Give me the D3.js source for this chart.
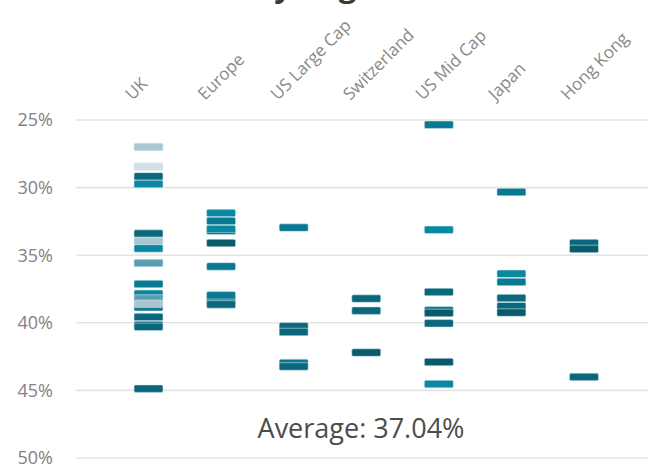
<!DOCTYPE html>
<html>
<head>
<meta charset="utf-8">
<script src="https://cdn.jsdelivr.net/npm/d3@7"></script>
<style>
	body { margin: 0; background: #fff; }
	svg { display: block; font-family: "Open Sans", "Noto Sans", sans-serif; }
	.gridLines line { stroke: #e4e4e4; stroke-width: 1.6; }
	.tickLabels text { fill: #868084; font-size: 18px; }
	.catLabels text { fill: #888888; font-size: 17px; }
	.bar { stroke: #d4eaf0; stroke-width: 0.7; stroke-opacity: 0.8; }
</style>
</head>
<body>
<script>
(function(){

	//pseudo-global variables
	var categories = ["UK", "Europe", "US Large Cap", "Switzerland", "US Mid Cap", "Japan", "Hong Kong"];
	var yTicks = [25, 30, 35, 40, 45, 50]; //percent
	var averageLabel = "Average: 37.04%";
	var titleText = "Maximum Drawdown by Region";

	//values (percent) and shade group for each category
	var ukValues = [27.0, 28.45, 29.17, 29.73, 33.4, 33.95, 34.5, 35.58, 37.13, 38.85, 37.85, 38.2, 38.6, 39.57, 40.16, 40.3, 44.87];
	var ukTones = [5, 6, 1, 3, 1, 5, 3, 4, 2, 2, 3, 4, 5, 1, 1, 1, 1];
	var europeValues = [31.88, 32.47, 33.2, 33.06, 34.1, 35.83, 38.3, 37.97, 38.64];
	var europeTones = [3, 2, 1, 3, 0, 2, 2, 2, 1];
	var usLargeValues = [32.96, 40.26, 40.68, 42.97, 43.23];
	var usLargeTones = [2, 1, 1, 2, 1];
	var swissValues = [38.21, 39.1, 42.2];
	var swissTones = [1, 1, 0];
	var usMidValues = [25.35, 33.12, 37.72, 39.07, 39.27, 40.04, 42.9, 44.53];
	var usMidTones = [2, 3, 1, 2, 0, 1, 0, 3];
	var japanValues = [30.33, 36.37, 36.98, 38.17, 38.77, 39.24];
	var japanTones = [2, 3, 2, 1, 1, 0];
	var hongKongValues = [34.1, 34.54, 44.0];
	var hongKongTones = [1, 0, 1];

	var allValues = [ukValues, europeValues, usLargeValues, swissValues, usMidValues, japanValues, hongKongValues];
	var allTones = [ukTones, europeTones, usLargeTones, swissTones, usMidTones, japanTones, hongKongTones];

	var toneColors = ["#0b5a6b", "#0b687c", "#0a7890", "#0a88a2", "#5b9db2", "#a9c6d1", "#d3e1e7"];

	//begin script when window loads
	window.onload = setChart();

	function setChart(){
		//chart frame dimensions
		var width = 648,
			height = 471,
			gridLeft = 76,
			barWidth = 29,
			barHeight = 7.5;

		var svg = d3.select("body")
			.append("svg")
			.attr("width", width)
			.attr("height", height);

		//scales
		var yScale = d3.scaleLinear()
			.domain([25, 50])
			.range([120, 458]);

		var xScale = d3.scalePoint()
			.domain(categories)
			.range([148.5, 584]);

		var colorScale = d3.scaleOrdinal()
			.domain(d3.range(toneColors.length))
			.range(toneColors);

		//title sits above the frame, only the descenders show
		var title = svg.append("text")
			.attr("class", "chartTitle")
			.attr("x", 0)
			.attr("y", -3)
			.style("font-size", "31px")
			.style("font-weight", "bold")
			.style("fill", "#3a3a3a")
			.text(titleText);
		//line up the "y" of "by" with the reference
		var yIndex = titleText.indexOf("by") + 1;
		var box = title.node().getExtentOfChar(yIndex);
		title.attr("x", 283 - (box.x + box.width / 2));

		//horizontal grid lines
		svg.append("g")
			.attr("class", "gridLines")
			.selectAll("line")
			.data(yTicks)
			.enter()
			.append("line")
			.attr("x1", gridLeft)
			.attr("x2", width)
			.attr("y1", function(d){ return yScale(d); })
			.attr("y2", function(d){ return yScale(d); });

		//y tick labels
		svg.append("g")
			.attr("class", "tickLabels")
			.selectAll("text")
			.data(yTicks)
			.enter()
			.append("text")
			.attr("x", 53)
			.attr("y", function(d){ return yScale(d); })
			.attr("dy", "0.35em")
			.attr("text-anchor", "end")
			.text(function(d){ return d + "%"; });

		//rotated category labels
		svg.append("g")
			.attr("class", "catLabels")
			.selectAll("text")
			.data(categories)
			.enter()
			.append("text")
			.attr("transform", function(d){
				return "translate(" + (xScale(d) - 16) + ",101) rotate(-45)";
			})
			.text(function(d){ return d; });

		//flatten the arrays into marks
		var marks = [];
		categories.forEach(function(cat, i){
			allValues[i].forEach(function(v, j){
				marks.push({ cat: cat, value: v, tone: allTones[i][j] });
			});
		});

		svg.append("g")
			.attr("class", "bars")
			.selectAll("rect")
			.data(marks)
			.enter()
			.append("rect")
			.attr("class", "bar")
			.attr("x", function(d){ return xScale(d.cat) - barWidth / 2; })
			.attr("y", function(d){ return yScale(d.value) - barHeight / 2; })
			.attr("width", barWidth)
			.attr("height", barHeight)
			.attr("rx", 1.5)
			.style("fill", function(d){ return colorScale(d.tone); });

		//average annotation
		svg.append("text")
			.attr("x", 361)
			.attr("y", 438)
			.attr("text-anchor", "middle")
			.style("font-size", "27px")
			.style("fill", "#4c4c4c")
			.text(averageLabel);
	};

})();
</script>
</body>
</html>
